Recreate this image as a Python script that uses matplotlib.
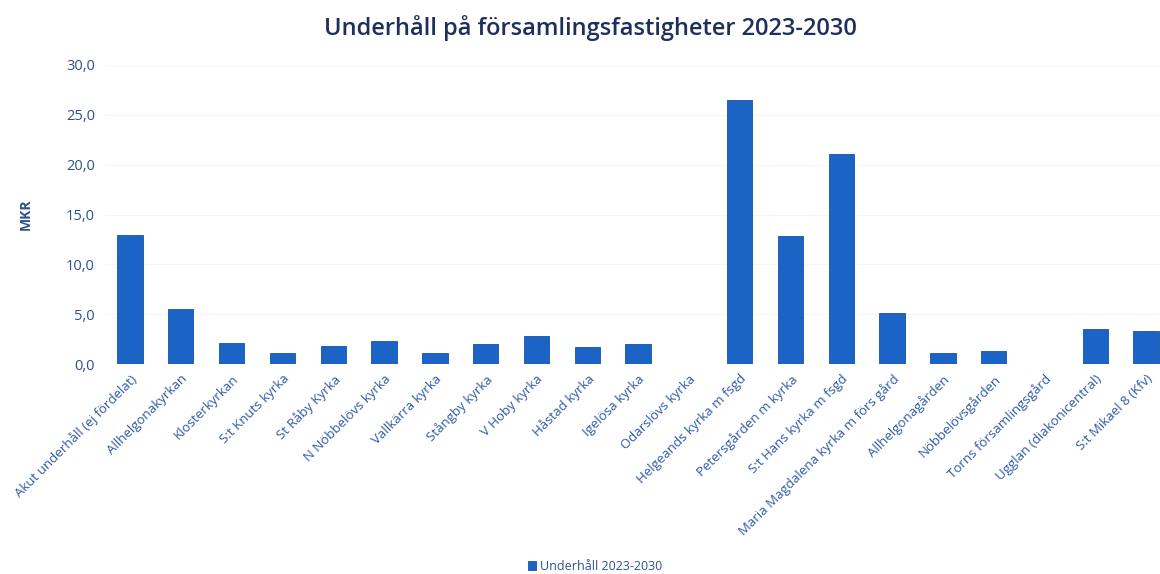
import matplotlib
matplotlib.use("Agg")
import matplotlib.pyplot as plt
from matplotlib.ticker import FuncFormatter

categories = [
    "Akut underhåll (ej fördelat)", "Allhelgonakyrkan", "Klosterkyrkan",
    "S:t Knuts kyrka", "St Råby Kyrka", "N Nöbbelövs kyrka", "Vallkärra kyrka",
    "Stångby kyrka", "V Hoby kyrka", "Håstad kyrka", "Igelösa kyrka",
    "Odarslövs kyrka", "Helgeands kyrka m fsgd", "Petersgården m kyrka",
    "S:t Hans kyrka m fsgd", "Maria Magdalena kyrka m förs gård",
    "Allhelgonagården", "Nöbbelövsgården", "Torns församlingsgård",
    "Ugglan (diakonicentral)", "S:t Mikael 8 (Kfv)",
]
values = [12.9, 5.5, 2.1, 1.1, 1.8, 2.3, 1.1, 2.0, 2.8, 1.7, 2.0,
          0.0, 26.5, 12.8, 21.1, 5.1, 1.1, 1.3, 0.0, 3.5, 3.3]
series_name = "Underhåll 2023-2030"
title = "Underhåll på församlingsfastigheter 2023-2030"
y_ticks = [0, 5, 10, 15, 20, 25, 30]

plt.rcParams['font.family'] = ['Open Sans', 'DejaVu Sans']

W, H = 1160, 574
fig = plt.figure(figsize=(W / 100, H / 100), dpi=100)
left, right = 104.6, 1171.4
top, bottom = 65, 364
ax = fig.add_axes([left / W, 1 - bottom / H, (right - left) / W, (bottom - top) / H])

bar_color = '#1b63c4'
x = list(range(len(categories)))
bars = ax.bar(x, values, width=0.5, color=bar_color, edgecolor='#1452a8',
              linewidth=0.6, label=series_name, zorder=3)

ax.set_xlim(-0.5, len(categories) - 0.5)
ax.set_ylim(0, 30)
ax.set_yticks(y_ticks)
ax.yaxis.set_major_formatter(FuncFormatter(lambda v, p: f"{v:.1f}".replace('.', ',')))
ax.grid(axis='y', color='#f5f5f5', linewidth=0.8, zorder=0)
for s in ax.spines.values():
    s.set_visible(False)
ax.tick_params(axis='both', length=0)
ax.tick_params(axis='y', labelsize=10.5, labelcolor='#2f4f8f', pad=7)
ax.set_xticks(x)
ax.set_xticklabels(categories, rotation=45, ha='right', rotation_mode='anchor',
                   fontsize=9.5, color='#2d5aa6')
ax.tick_params(axis='x', pad=6)

ax.set_ylabel("MKR", fontsize=10, fontweight='bold', color='#2f4f8f')
ax.yaxis.set_label_coords(-(104.6 - 33) / (right - left), 0.5)

fig.text(590 / W, 1 - 28 / H, title, ha='center', va='center',
         fontsize=17, fontweight='semibold', color='#1f2e5c')

leg = fig.legend(handles=[bars], labels=[series_name], loc='center',
                 bbox_to_anchor=(595 / W, 1 - 566 / H), frameon=False,
                 fontsize=9, handlelength=0.7, handleheight=0.7, handletextpad=0.3)
for t in leg.get_texts():
    t.set_color('#2f4f8f')

fig.savefig("out.png", dpi=100)
